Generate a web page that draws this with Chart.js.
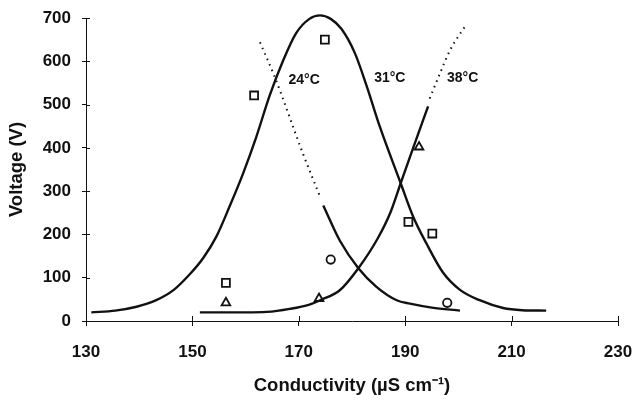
<!DOCTYPE html>
<html>
<head>
<meta charset="utf-8">
<script src="https://cdn.jsdelivr.net/npm/chart.js@4/dist/chart.umd.min.js"></script>
<style>
  html, body { margin: 0; padding: 0; background: #fff; }
  #wrap { width: 636px; height: 401px; }
</style>
</head>
<body>
<div id="wrap"><canvas id="chart" width="636" height="401"></canvas></div>
<script>
// axis ticks
const xTicks = [130, 150, 170, 190, 210, 230];
const yTicks = [0, 100, 200, 300, 400, 500, 600, 700];

// 31 °C fitted curve (solid)
const curve31X = [131, 135.5, 139.5, 143, 146.5, 149.5, 152, 154.5, 157, 159.5, 162, 164.5, 167, 169.5, 172, 174, 176, 178, 180.5, 182.7, 185.2, 189.1, 191.5, 194, 197.1, 200.3, 204, 208.4, 212, 216.5];
const curve31Y = [20, 24, 33, 47, 72, 108, 145, 195, 265, 340, 425, 520, 600, 665, 698, 706, 698, 675, 620, 545, 450, 320, 241, 179, 112, 72, 48, 30, 25, 24];

// 24 °C fitted curve: dotted extrapolation, then solid
const curve24DotX = [162.7, 165.5, 170.8, 174.0];
const curve24DotY = [644, 563, 386, 287];
const curve24X = [174.6, 177.7, 181.2, 184.6, 188.4, 190.9, 195, 200.3];
const curve24Y = [267, 186, 122, 79, 48, 40, 31, 24];

// 38 °C fitted curve: solid, then dotted extrapolation
const curve38X = [151.4, 160, 164, 168.3, 172, 174, 177.7, 181.2, 184.8, 187.2, 189.2, 191.5, 194.3];
const curve38Y = [20, 20, 21, 28, 38, 48, 71, 122, 190, 250, 320, 400, 496];
const curve38DotX = [194.6, 196.5, 198.4, 201.6];
const curve38DotY = [514, 571, 625, 687];

// measured points
const squareX = [156.3, 161.6, 174.9, 190.6, 195.1];
const squareY = [88, 521, 650, 229, 202];
const triangleX = [156.3, 173.8, 192.6];
const triangleY = [42, 52, 402];
const circleX = [176.0, 197.9];
const circleY = [142, 42];

// curve labels
const curveLabels = ['24°C', '31°C', '38°C'];
const curveLabelX = [171, 187.1, 200.8];
const curveLabelY = [556, 560, 560];

const toPoints = (xs, ys) => xs.map((x, i) => ({ x, y: ys[i] }));

const INK = '#111';
const FONT = '"Liberation Sans", Arial, sans-serif';

Chart.defaults.font.family = FONT;
Chart.defaults.color = INK;

const lineSet = (xs, ys, dashed) => ({
    data: toPoints(xs, ys),
    showLine: true,
    clip: false,
    borderColor: INK,
    borderWidth: dashed ? 2 : 2.4,
    borderDash: dashed ? [1.5, 4.5] : [],
    pointRadius: 0,
    cubicInterpolationMode: 'monotone',
    fill: false
});

const markerSet = (xs, ys, style, radius) => ({
    data: toPoints(xs, ys),
    showLine: false,
    clip: false,
    pointStyle: style,
    pointRadius: radius,
    pointBorderWidth: 1.8,
    pointBorderColor: INK,
    pointBackgroundColor: '#fff'
});

// tick marks that cross the axis lines, plus the curve labels
const extrasPlugin = {
    id: 'extras',
    afterDraw(chart) {
        const { ctx, scales: { x, y } } = chart;
        ctx.save();
        ctx.strokeStyle = INK;
        ctx.lineWidth = 1;
        const axisY = y.getPixelForValue(0);
        const axisX = x.getPixelForValue(130);
        xTicks.forEach((v) => {
            const px = Math.round(x.getPixelForValue(v)) + 0.5;
            ctx.beginPath();
            ctx.moveTo(px, axisY);
            ctx.lineTo(px, axisY - 5);
            ctx.stroke();
        });
        yTicks.forEach((v) => {
            const py = Math.round(y.getPixelForValue(v)) + 0.5;
            ctx.beginPath();
            ctx.moveTo(axisX, py);
            ctx.lineTo(axisX + 4, py);
            ctx.stroke();
        });
        ctx.fillStyle = INK;
        ctx.font = `bold 14px ${FONT}`;
        ctx.textAlign = 'center';
        ctx.textBaseline = 'middle';
        curveLabels.forEach((t, i) => {
            ctx.fillText(t, x.getPixelForValue(curveLabelX[i]), y.getPixelForValue(curveLabelY[i]));
        });
        ctx.restore();
    }
};

new Chart(document.getElementById('chart'), {
    type: 'scatter',
    data: {
        datasets: [
            lineSet(curve31X, curve31Y, false),
            lineSet(curve24DotX, curve24DotY, true),
            lineSet(curve24X, curve24Y, false),
            lineSet(curve38X, curve38Y, false),
            lineSet(curve38DotX, curve38DotY, true),
            markerSet(squareX, squareY, 'rect', 5.6),
            markerSet(triangleX, triangleY, 'triangle', 5),
            markerSet(circleX, circleY, 'circle', 4.2)
        ]
    },
    options: {
        responsive: false,
        animation: false,
        layout: { padding: { left: 0, top: 18, right: 18, bottom: 0 } },
        plugins: {
            legend: { display: false },
            tooltip: { enabled: false }
        },
        scales: {
            x: {
                type: 'linear',
                min: 130,
                max: 230,
                afterBuildTicks: (scale) => { scale.ticks = xTicks.map((v) => ({ value: v })); },
                afterFit: (scale) => {
                    scale.height = 80;
                    scale.paddingLeft = 0;
                    scale.paddingRight = 0;
                },
                border: { display: true, color: INK, width: 1 },
                grid: { display: true, drawOnChartArea: false, tickLength: 5, color: INK },
                ticks: { font: { size: 17, weight: 'bold' }, padding: 16, color: INK },
                title: {
                    display: true,
                    text: 'Conductivity (µS cm⁻¹)',
                    font: { size: 18.5, weight: 'bold' },
                    padding: { top: 0, bottom: 4 },
                    color: INK
                }
            },
            y: {
                type: 'linear',
                min: 0,
                max: 700,
                afterBuildTicks: (scale) => { scale.ticks = yTicks.map((v) => ({ value: v })); },
                afterFit: (scale) => {
                    scale.width = 86;
                    scale.paddingTop = 0;
                    scale.paddingBottom = 0;
                },
                border: { display: true, color: INK, width: 1 },
                grid: { display: true, drawOnChartArea: false, tickLength: 4, color: INK },
                ticks: { font: { size: 17, weight: 'bold' }, padding: 11, color: INK },
                title: {
                    display: true,
                    text: 'Voltage (V)',
                    font: { size: 18.5, weight: 'bold' },
                    padding: { top: 6, bottom: 0 },
                    color: INK
                }
            }
        }
    },
    plugins: [extrasPlugin]
});
</script>
</body>
</html>
